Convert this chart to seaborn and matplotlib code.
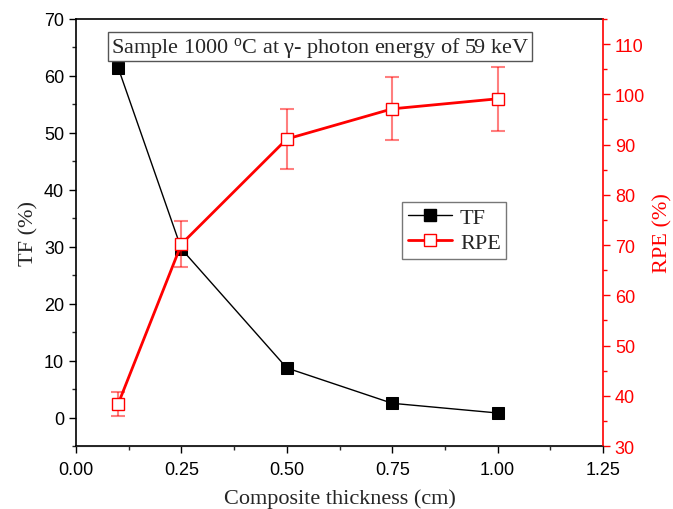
import numpy as np
import pandas as pd
import matplotlib
matplotlib.use("Agg")
import matplotlib.pyplot as plt
from matplotlib.ticker import MultipleLocator, FormatStrFormatter
from matplotlib.lines import Line2D
import seaborn as sns

# Composite thickness (cm)
thickness = [0.10, 0.25, 0.50, 0.75, 1.00]
# Transmission factor (%)
tf_values = [61.4, 29.6, 8.7, 2.5, 0.8]
# Radiation protection efficiency (%) and its error
rpe_values = [38.4, 70.2, 91.1, 97.1, 99.1]
rpe_err = [2.4, 4.5, 5.9, 6.3, 6.4]

sns.set_style("ticks")
plt.rcParams["font.family"] = ["Liberation Sans", "DejaVu Sans"]
plt.rcParams["mathtext.fontset"] = "custom"
plt.rcParams["mathtext.rm"] = "Liberation Serif"
plt.rcParams["mathtext.it"] = "Liberation Serif:italic"

serif = ["Liberation Serif", "DejaVu Serif"]
red = "#ff0000"

df = pd.DataFrame({"thickness": thickness, "TF": tf_values,
                   "RPE": rpe_values, "err": rpe_err})

fig = plt.figure(figsize=(6.73, 5.10), dpi=100)
ax = fig.add_axes([0.113, 0.1235, 0.783, 0.8375])
ax2 = ax.twinx()

sns.lineplot(data=df, x="thickness", y="TF", ax=ax, color="black",
             marker="s", markersize=9, markerfacecolor="black",
             markeredgecolor="black", linewidth=1.0, zorder=3)

ax2.errorbar(df["thickness"], df["RPE"], yerr=df["err"], fmt="none",
             ecolor=red, alpha=0.5, elinewidth=1.5, capsize=5, capthick=1.5,
             zorder=2)
sns.lineplot(data=df, x="thickness", y="RPE", ax=ax2, color=red,
             marker="s", markersize=9, markerfacecolor="white",
             markeredgecolor=red, markeredgewidth=1.0, linewidth=2.0,
             zorder=3)

ax.set_xlim(0, 1.25)
ax.set_ylim(-5, 70)
ax2.set_ylim(30, 115)

ax.xaxis.set_major_locator(MultipleLocator(0.25))
ax.xaxis.set_minor_locator(MultipleLocator(0.125))
ax.yaxis.set_major_locator(MultipleLocator(10))
ax.yaxis.set_minor_locator(MultipleLocator(5))
ax2.yaxis.set_major_locator(MultipleLocator(10))
ax2.yaxis.set_minor_locator(MultipleLocator(5))
ax.xaxis.set_major_formatter(FormatStrFormatter("%.2f"))

ax.tick_params(axis="both", which="major", direction="out", length=5,
               width=1.0, labelsize=13, colors="black")
ax.tick_params(axis="x", which="major", pad=6)
ax.tick_params(axis="both", which="minor", direction="out", length=3, width=1.0)
ax2.tick_params(axis="y", which="major", direction="out", length=5,
                width=1.0, labelsize=13, colors=red)
ax2.tick_params(axis="y", which="minor", direction="out", length=3,
                width=1.0, colors=red)

for s in ["left", "bottom", "top"]:
    ax.spines[s].set_linewidth(1.2)
    ax.spines[s].set_color("black")
ax2.spines["right"].set_color(red)
ax2.spines["right"].set_linewidth(1.2)
ax2.spines["left"].set_visible(False)
ax2.spines["top"].set_visible(False)
ax.spines["right"].set_visible(False)

ax.set_xlabel("Composite thickness (cm)", family=serif, fontsize=16, labelpad=7)
ax.set_ylabel("TF (%)", family=serif, fontsize=16, labelpad=4)
ax2.set_ylabel("RPE (%)", family=serif, fontsize=16, color=red, labelpad=6)

ax.text(0.066, 0.963, r"Sample 1000 $^{\rm o}$C at γ- photon energy of 59 keV",
        transform=ax.transAxes, family=serif, fontsize=16, va="top", ha="left",
        bbox=dict(boxstyle="square,pad=0.12", facecolor="white",
                  edgecolor="#555555", linewidth=1.0), zorder=5)

handles = [
    Line2D([], [], color="black", marker="s", markersize=9, linewidth=1.0,
           markerfacecolor="black", markeredgecolor="black"),
    Line2D([], [], color=red, marker="s", markersize=9, linewidth=2.0,
           markerfacecolor="white", markeredgecolor=red),
]
leg = ax2.legend(handles, ["TF", "RPE"], loc="upper left",
                 bbox_to_anchor=(0.619, 0.571), prop={"family": serif, "size": 16},
                 frameon=True, fancybox=False, edgecolor="#555555",
                 handlelength=2.0, borderpad=0.25, labelspacing=0.2,
                 handletextpad=0.35, borderaxespad=0)
leg.get_frame().set_linewidth(1.0)
if ax.get_legend() is not None:
    ax.get_legend().remove()

fig.savefig("out.png", dpi=100)
